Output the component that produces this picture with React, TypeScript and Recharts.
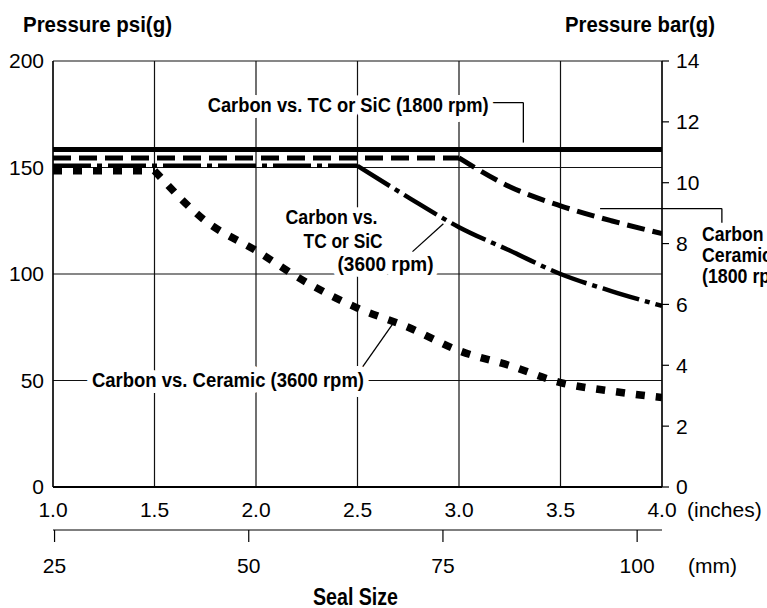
import React from "react";
import {
  LineChart,
  Line,
  XAxis,
  YAxis,
  CartesianGrid,
  ReferenceLine,
  ReferenceDot,
} from "recharts";

const FONT = "'Liberation Sans', Arial, sans-serif";

// axis ticks
const inchTicks = [1.0, 1.5, 2.0, 2.5, 3.0, 3.5, 4.0];
const mmTicks = [25, 50, 75, 100];
const psiTicks = [0, 50, 100, 150, 200];
const barTicks = [0, 2, 4, 6, 8, 10, 12, 14];

// span of the secondary scales (mm under the inch axis, bar on the right)
const mmSpan = [24.8, 103.2];
const barSpan = [0, 14];

// Carbon vs. TC or SiC (1800 rpm)
const tc1800In = [1.0, 4.0];
const tc1800Psi = [158.5, 158.5];

// Carbon vs. Ceramic (1800 rpm): flat part, then the falling part
const cer1800FlatIn = [1.0, 3.0];
const cer1800FlatPsi = [154.5, 154.5];
const cer1800In = [3.0, 3.25, 3.5, 3.75, 4.0];
const cer1800Psi = [154.5, 141, 132, 125, 119];

// Carbon vs. TC or SiC (3600 rpm)
const tc3600FlatIn = [1.0, 2.5];
const tc3600FlatPsi = [150.8, 150.8];
const tc3600In = [2.5, 2.75, 3.0, 3.25, 3.5, 3.75, 4.0];
const tc3600Psi = [150.8, 136, 122, 111, 100, 92, 85];

// Carbon vs. Ceramic (3600 rpm)
const cer3600FlatIn = [1.0, 1.5];
const cer3600FlatPsi = [148.5, 148.5];
const cer3600In = [1.5, 1.75, 2.0, 2.25, 2.5, 2.75, 3.0, 3.25, 3.5, 3.75, 4.0];
const cer3600Psi = [148.5, 125, 111, 96, 84, 75, 64, 57, 49, 45, 42];

const toRows = (xs: number[], ys: number[]) => xs.map((x, i) => ({ x, psi: ys[i] }));

// callout texts (inches, psi, measured text width)
const notes = [
  { x: 1.762, y: 176.2, anchor: "start", w: 281, text: "Carbon vs. TC or SiC (1800 rpm)" },
  { x: 2.372, y: 123.6, anchor: "middle", w: 92, text: "Carbon vs." },
  { x: 2.429, y: 112.4, anchor: "middle", w: 79, text: "TC or SiC" },
  { x: 2.638, y: 101.6, anchor: "middle", w: 96, text: "(3600 rpm)" },
  { x: 1.192, y: 46.9, anchor: "start", w: 272, text: "Carbon vs. Ceramic (3600 rpm)" },
  { x: 4.197, y: 115.7, anchor: "start", w: 91, text: "Carbon vs." },
  { x: 4.197, y: 105.4, anchor: "start", w: 70, text: "Ceramic" },
  { x: 4.197, y: 95.6, anchor: "start", w: 90, text: "(1800 rpm)" },
];

// leader lines from callouts to curves
const leaders = [
  [[3.154, 180.5], [3.317, 180.5]],
  [[3.317, 180.5], [3.317, 161.7]],
  [[2.771, 110.5], [2.923, 123.6]],
  [[2.52, 55.7], [2.672, 76.3]],
  [[3.695, 130.7], [4.295, 130.7]],
  [[4.295, 130.7], [4.295, 124.1]],
];

const tickStyle = { fill: "#000", fontSize: 21, fontFamily: FONT };

export default function App() {
  const line = (data: any[], type: any, width: number, dash?: string) => (
    <Line
      data={data}
      dataKey="psi"
      type={type}
      stroke="#000"
      strokeWidth={width}
      strokeDasharray={dash}
      dot={false}
      activeDot={false}
      isAnimationActive={false}
    />
  );

  // invisible series that binds the mm and bar axes to their spans
  const spanRows = [
    { mm: mmSpan[0], bar: barSpan[0] },
    { mm: mmSpan[1], bar: barSpan[1] },
  ];

  return (
    <div style={{ position: "absolute", left: 0, top: 0, width: 767, height: 608, background: "#fff" }}>
      <LineChart width={767} height={608} margin={{ top: 61, right: 0, bottom: 28, left: 0 }}>
        <CartesianGrid stroke="#111" strokeWidth={1.2} />

        <XAxis
          type="number"
          dataKey="x"
          domain={[1, 4]}
          ticks={inchTicks}
          interval={0}
          allowDataOverflow
          tickFormatter={(v: number) => v.toFixed(1)}
          height={43}
          tickLine={false}
          tickMargin={9}
          axisLine={{ stroke: "#000", strokeWidth: 1.8 }}
          tick={tickStyle}
        />
        <XAxis
          xAxisId="mm"
          dataKey="mm"
          type="number"
          domain={mmSpan}
          ticks={mmTicks}
          interval={0}
          allowDataOverflow
          height={50}
          tickSize={12}
          tickMargin={16}
          tickLine={{ stroke: "#000", strokeWidth: 1.2 }}
          axisLine={{ stroke: "#000", strokeWidth: 1.2 }}
          tick={tickStyle}
        />
        <YAxis
          type="number"
          domain={[0, 200]}
          ticks={psiTicks}
          interval={0}
          width={53}
          tickLine={false}
          tickMargin={3}
          axisLine={{ stroke: "#000", strokeWidth: 1.2 }}
          tick={tickStyle}
        />
        <YAxis
          yAxisId="bar"
          orientation="right"
          type="number"
          domain={barSpan}
          ticks={barTicks}
          interval={0}
          allowDataOverflow
          width={105}
          tickSize={7}
          tickMargin={7}
          tickLine={{ stroke: "#000", strokeWidth: 1.2 }}
          axisLine={{ stroke: "#000", strokeWidth: 1.2 }}
          tick={tickStyle}
        />

        <Line
          data={spanRows}
          xAxisId="mm"
          yAxisId="bar"
          dataKey="bar"
          stroke="none"
          dot={false}
          activeDot={false}
          isAnimationActive={false}
        />

        {line(toRows(tc1800In, tc1800Psi), "linear", 5)}
        {line(toRows(cer1800FlatIn, cer1800FlatPsi), "linear", 5, "18 8")}
        {line(toRows(cer1800In, cer1800Psi), "monotone", 5, "18 8")}
        {line(toRows(tc3600FlatIn, tc3600FlatPsi), "linear", 4.5, "38 6 5 6")}
        {line(toRows(tc3600In, tc3600Psi), "monotone", 4.5, "38 6 5 6")}
        {line(toRows(cer3600FlatIn, cer3600FlatPsi), "linear", 7.5, "9 11")}
        {line(toRows(cer3600In, cer3600Psi), "monotone", 7.5, "9 11")}

        {leaders.map((seg, i) => (
          <ReferenceLine
            key={"l" + i}
            segment={[
              { x: seg[0][0], y: seg[0][1] },
              { x: seg[1][0], y: seg[1][1] },
            ]}
            stroke="#000"
            strokeWidth={1.3}
            ifOverflow="visible"
          />
        ))}
        {notes.map((n, i) => (
          <ReferenceDot
            key={"n" + i}
            x={n.x}
            y={n.y}
            r={0}
            ifOverflow="visible"
            shape={(p: any) => (
              <text
                x={p.cx}
                y={p.cy}
                textAnchor={n.anchor as any}
                textLength={n.w}
                lengthAdjust="spacingAndGlyphs"
                fontFamily={FONT}
                fontWeight="bold"
                fontSize={20}
                fill="#000"
                stroke="#fff"
                strokeWidth={12}
                strokeLinejoin="round"
                paintOrder="stroke"
              >
                {n.text}
              </text>
            )}
          />
        ))}
      </LineChart>

      <svg
        width={767}
        height={608}
        style={{ position: "absolute", left: 0, top: 0, pointerEvents: "none" }}
        fontFamily={FONT}
      >
        <text x={23} y={32} fontSize={22} fontWeight="bold" textLength={149} lengthAdjust="spacingAndGlyphs">
          Pressure psi(g)
        </text>
        <text x={565} y={32} fontSize={22} fontWeight="bold" textLength={150} lengthAdjust="spacingAndGlyphs">
          Pressure bar(g)
        </text>
        <text x={687} y={517} fontSize={21}>(inches)</text>
        <text x={688} y={573} fontSize={21}>(mm)</text>
        <text x={313} y={605} fontSize={23} fontWeight="bold" textLength={85} lengthAdjust="spacingAndGlyphs">
          Seal Size
        </text>
      </svg>
    </div>
  );
}
